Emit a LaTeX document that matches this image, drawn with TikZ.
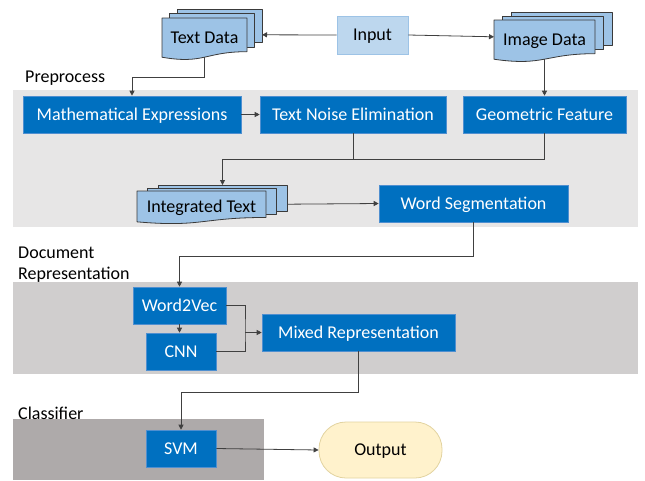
\documentclass[tikz,border=0pt]{standalone}
\usepackage{fontspec}
\setmainfont{Carlito}
\usetikzlibrary{arrows.meta}

\definecolor{boxblue}{HTML}{0070C0}
\definecolor{boxedge}{HTML}{4F8FD0}
\definecolor{inputfill}{HTML}{BDD7EE}
\definecolor{inputedge}{HTML}{9DC3E6}
\definecolor{docfill}{HTML}{9DC3E6}
\definecolor{docedge}{HTML}{3A3A3A}
\definecolor{outfill}{HTML}{FFF2CC}
\definecolor{outedge}{HTML}{E2D3A0}
\definecolor{bandA}{HTML}{E7E6E6}
\definecolor{bandB}{HTML}{D0CECE}
\definecolor{bandC}{HTML}{AEAAAA}
\definecolor{wire}{HTML}{404040}

\tikzset{
  txt/.style={font=\fontsize{18}{21}\selectfont},
  ctxt/.style={txt, text height=15pt, text depth=3.4pt},
  procbox/.style={ctxt, rectangle, fill=boxblue, draw=boxedge, line width=0.6pt,
    text=white, inner sep=0pt},
  docshape/.style={fill=docfill, draw=docedge, line width=0.8pt, line join=round},
  doctext/.style={ctxt, inner sep=0pt, text=black},
  sectionlabel/.style={txt, anchor=west, inner sep=0pt, align=left, text=black},
  wireline/.style={draw=wire, line width=0.8pt},
  arr/.style={wireline, -{Triangle[length=5pt,width=5pt]}},
}

% stack of three documents: name, front left x, front top y, width, height, step dx, step dy, text
\newcommand\docstack[8]{%
  \foreach \k in {2,1} {
    \filldraw[docshape] ({#2+\k*#6},{#3+\k*#7}) rectangle ({#2+#4+\k*#6},{#3+0.802*#5+\k*#7});
  }
  \filldraw[docshape] (#2,#3) -- ({#2+#4},#3) -- ({#2+#4},{#3+0.802*#5})
    .. controls ({#2+0.5*#4},{#3+0.802*#5}) and ({#2+0.5*#4},{#3+1.107*#5}) ..
    (#2,{#3+0.934*#5}) -- cycle;
  \node[doctext] (#1) at ({#2+#4/2},{#3+0.48*#5}) {#8};
  \coordinate (#1-e) at ({#2+#4+2*#6},{#3+0.4*#5});
  \coordinate (#1-w) at (#2,{#3+0.4*#5});
  \coordinate (#1-s) at ({#2+#4/2},{#3+0.933*#5});
  \coordinate (#1-n) at ({#2+#4/2+2*#6},{#3+2*#7});
}

\begin{document}
\begin{tikzpicture}[x=1pt,y=-1pt]
\useasboundingbox (0,0) rectangle (645,480);

% section bands
\fill[bandA] (13,90) rectangle (638,227);
\fill[bandB] (13,282) rectangle (638,374);
\fill[bandC] (13,419) rectangle (264,480);

% section labels
\node[sectionlabel] (lblpre) at (25,78.5) {Preprocess};
\node[sectionlabel] (lbldoc) at (18,264.5) {Document\\Representation};
\node[sectionlabel] (lblcls) at (18,413) {Classifier};

% input and data sources
\node[ctxt, fill=inputfill, draw=inputedge, line width=0.8pt, inner sep=0pt,
      minimum width=71pt, minimum height=38pt] (input) at (372.5,35) {Input};
\docstack{td}{162}{18}{85}{42}{7.5}{-4.5}{Text Data}
\docstack{id}{494}{20}{101}{42}{8.5}{-4}{Image Data}

% preprocessing
\node[procbox, minimum width=218pt, minimum height=37pt] (math) at (132,114.5) {Mathematical Expressions};
\node[procbox, minimum width=186pt, minimum height=37pt] (tne) at (353,114.5) {Text Noise Elimination};
\node[procbox, minimum width=163pt, minimum height=37pt] (geo) at (544.5,114.5) {Geometric Feature};
\docstack{it}{137}{191}{129}{33}{10.5}{-3}{Integrated Text}
\node[procbox, minimum width=189pt, minimum height=37pt] (ws) at (473.5,203.5) {Word Segmentation};

% document representation
\node[procbox, minimum width=93pt, minimum height=37pt] (w2v) at (179.5,305.5) {Word2Vec};
\node[procbox, minimum width=70pt, minimum height=37pt] (cnn) at (181,351.5) {CNN};
\node[procbox, minimum width=193pt, minimum height=37pt] (mixed) at (358.5,332.5) {Mixed Representation};

% classifier
\node[procbox, minimum width=70pt, minimum height=37pt] (svm) at (181,448.5) {SVM};
\node[ctxt, fill=outfill, draw=outedge, line width=0.8pt, inner sep=0pt,
      minimum width=123pt, minimum height=56pt, rounded corners=27pt] (output) at (380.5,450) {Output};

% bend points
\coordinate (kA) at (0,77);
\coordinate (kB) at (0,159);
\coordinate (kC) at (0,256);
\coordinate (kD) at (245,332.5);
\coordinate (kE) at (0,392);

% connectors
\draw[arr] (input.west) -- (td-e);
\draw[arr] (input.east) -- (id-w);
\draw[arr] (td-s) -- (td-s |- kA) -| (math.north);
\draw[arr] (math.east) -- (tne.west);
\draw[arr] (id-s) -- (geo.north);
\draw[wireline] (tne.south) -- (tne.south |- kB);
\draw[arr] (geo.south) -- (geo.south |- kB) -| (it-n);
\draw[arr] (it-e) -- (ws.west);
\draw[arr] (ws.south) -- (ws.south |- kC) -| (w2v.north);
\draw[arr] (w2v.south) -- (w2v.south |- cnn.north);
\draw[wireline] (w2v.east) -| (kD) |- (cnn.east);
\draw[arr] (kD) -- (mixed.west);
\draw[arr] (mixed.south) -- (mixed.south |- kE) -| (svm.north);
\draw[arr] (svm.east) -- (output.west);
\end{tikzpicture}
\end{document}
